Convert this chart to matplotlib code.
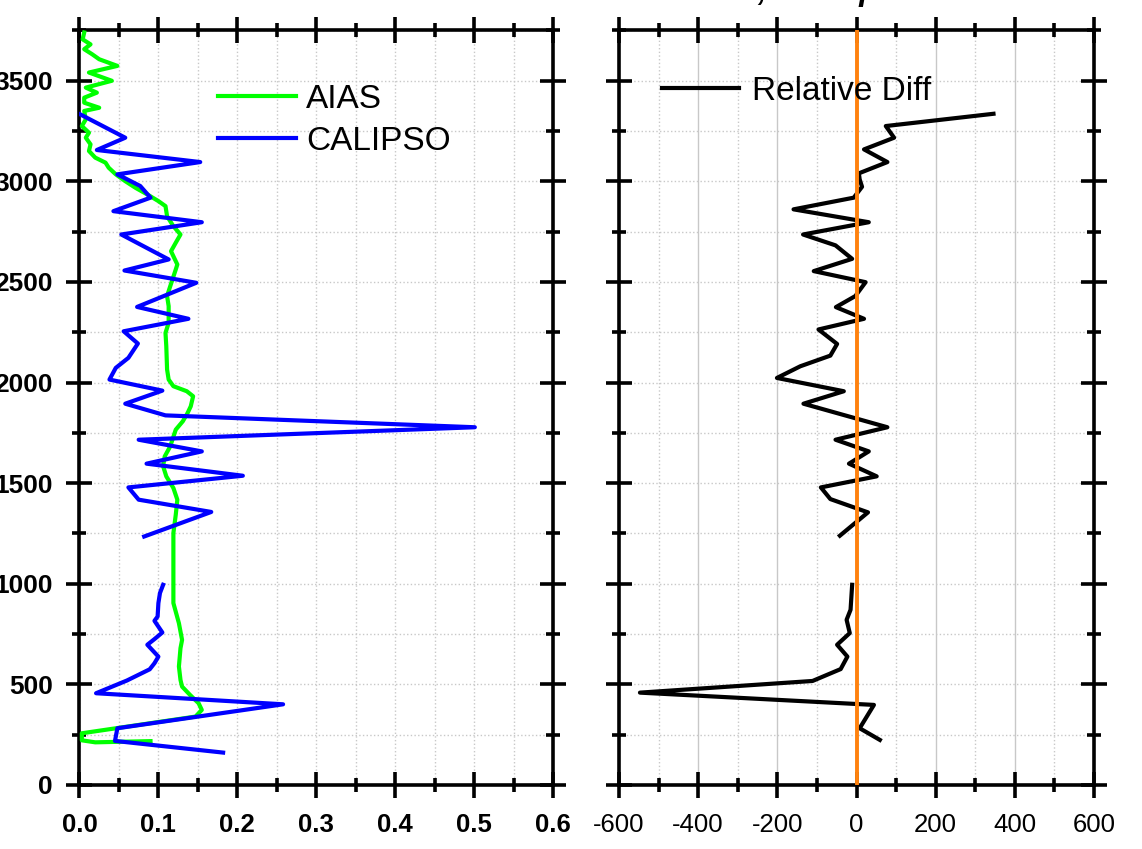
import numpy as np
import matplotlib
matplotlib.use('Agg')
import matplotlib.pyplot as plt
from matplotlib.ticker import MultipleLocator

plt.rcParams['font.family'] = ['Liberation Sans', 'DejaVu Sans']
plt.rcParams['axes.unicode_minus'] = False

# AIAS profile (altitude m, extinction)
aias_alt = [218, 212, 222, 257, 340, 373, 406, 448, 489, 522, 589, 680, 721, 804, 904,
            1020, 1119, 1252, 1343, 1418, 1476, 1534, 1584, 1633, 1683, 1766, 1808, 1849,
            1882, 1932, 1957, 1982, 2015, 2065, 2181, 2247, 2297, 2380, 2430, 2479, 2562,
            2587, 2628, 2653, 2695, 2736, 2777, 2827, 2877, 2902, 2935, 2968, 3001, 3035,
            3068, 3093, 3118, 3151, 3184, 3217, 3242, 3275, 3308, 3350, 3366, 3391, 3416,
            3441, 3466, 3500, 3541, 3574, 3607, 3632, 3657, 3681, 3706, 3740]
aias_ext = [0.090, 0.020, 0.003, 0.003, 0.147, 0.155, 0.151, 0.140, 0.130, 0.128, 0.126,
            0.128, 0.130, 0.126, 0.119, 0.119, 0.119, 0.119, 0.122, 0.124, 0.119, 0.110,
            0.106, 0.108, 0.115, 0.122, 0.131, 0.137, 0.141, 0.144, 0.136, 0.119, 0.113,
            0.111, 0.110, 0.109, 0.113, 0.113, 0.111, 0.115, 0.122, 0.124, 0.119, 0.116,
            0.122, 0.128, 0.119, 0.111, 0.109, 0.100, 0.086, 0.071, 0.058, 0.046, 0.037,
            0.033, 0.020, 0.012, 0.014, 0.008, 0.012, 0.003, 0.008, 0.006, 0.025, 0.006,
            0.006, 0.022, 0.008, 0.041, 0.012, 0.048, 0.025, 0.016, 0.006, 0.014, 0.004,
            0.006]

# CALIPSO profile, two pieces (gap between them)
cal_alt_low = [161, 219, 282, 401, 456, 519, 575, 605, 638, 697, 725, 758, 816, 837, 904,
               954, 995]
cal_ext_low = [0.182, 0.045, 0.048, 0.258, 0.021, 0.060, 0.089, 0.095, 0.100, 0.086,
               0.095, 0.105, 0.095, 0.099, 0.100, 0.102, 0.106]
cal_alt_up = [1235, 1357, 1418, 1479, 1537, 1597, 1658, 1716, 1778, 1837, 1895, 1960, 2015,
              2073, 2123, 2194, 2255, 2317, 2376, 2496, 2557, 2612, 2736, 2797, 2852, 2919,
              2977, 3035, 3096, 3156, 3217, 3333]
cal_ext_up = [0.082, 0.167, 0.075, 0.062, 0.207, 0.085, 0.155, 0.075, 0.501, 0.109, 0.058,
              0.105, 0.038, 0.046, 0.062, 0.074, 0.056, 0.138, 0.073, 0.148, 0.057, 0.113,
              0.053, 0.155, 0.043, 0.090, 0.077, 0.048, 0.153, 0.022, 0.058, 0.001]

# Relative difference (%), two pieces
rd_alt_low = [224, 282, 398, 459, 517, 576, 638, 697, 755, 821, 871, 995]
rd_val_low = [59, 8, 44, -547, -111, -40, -23, -49, -17, -25, -15, -11]
rd_alt_up = [1239, 1355, 1421, 1479, 1534, 1597, 1658, 1716, 1778, 1895, 1957, 2023, 2081,
             2134, 2192, 2264, 2317, 2375, 2430, 2499, 2554, 2615, 2682, 2736, 2797, 2861,
             2919, 2973, 3010, 3040, 3096, 3159, 3217, 3275, 3336]
rd_val_up = [-42, 29, -66, -90, 51, -19, 31, -53, 78, -134, -32, -201, -142, -66, -49, -96,
             19, -52, -3, 23, -108, -11, -53, -135, 31, -159, -7, 14, 8, 6, 78, 19, 95, 74,
             346]

cal_alt = cal_alt_low + [np.nan] + cal_alt_up
cal_ext = cal_ext_low + [np.nan] + cal_ext_up
rd_alt = rd_alt_low + [np.nan] + rd_alt_up
rd_val = rd_val_low + [np.nan] + rd_val_up

fig = plt.figure(figsize=(11.42, 8.49), dpi=100)
ax1 = fig.add_axes([0.0696, 0.0754, 0.4146, 0.8887])
ax2 = fig.add_axes([0.542, 0.0754, 0.416, 0.8887])

lw = 3.0
ax1.plot(aias_ext, aias_alt, color='#00ff00', lw=lw, label='AIAS', zorder=3)
ax1.plot(cal_ext, cal_alt, color='#0000ff', lw=lw, label='CALIPSO', zorder=4)
ax2.plot(rd_val, rd_alt, color='black', lw=lw, label='Relative Diff', zorder=3)
ax2.axvline(0, color='#ff820e', lw=2.8, zorder=4)

ax1.set_xlim(0, 0.6)
ax2.set_xlim(-600, 600)
for ax in (ax1, ax2):
    ax.set_ylim(0, 3750)
    ax.yaxis.set_major_locator(MultipleLocator(500))
    ax.yaxis.set_minor_locator(MultipleLocator(250))
    ax.tick_params(which='both', direction='inout', top=True, right=True, width=2.6,
                   labelsize=18.5)
    ax.tick_params(which='major', length=19)
    ax.tick_params(which='minor', length=9.5)
    ax.tick_params(axis='x', pad=11)
    ax.tick_params(axis='y', pad=9.5, labelsize=19)
    for s in ax.spines.values():
        s.set_linewidth(2.6)
    ax.grid(which='both', axis='y', color='#c8c8c8', ls=':', lw=1)

ax1.xaxis.set_major_locator(MultipleLocator(0.1))
ax1.xaxis.set_minor_locator(MultipleLocator(0.05))
ax1.grid(which='both', axis='x', color='#c8c8c8', ls=':', lw=1)
ax1.set_xticklabels([f'{v:.1f}' for v in ax1.get_xticks()])
for t in ax1.get_xticklabels() + ax1.get_yticklabels():
    t.set_fontweight('bold')

ax2.xaxis.set_major_locator(MultipleLocator(200))
ax2.xaxis.set_minor_locator(MultipleLocator(100))
ax2.grid(which='major', axis='x', color='#c8c8c8', ls='-', lw=1)
ax2.grid(which='minor', axis='x', color='#c8c8c8', ls=':', lw=1)
ax2.set_yticklabels([])

ax1.legend(loc='upper left', bbox_to_anchor=(0.2925, 0.929), frameon=False, fontsize=24,
           handlelength=2.35, handletextpad=0.3, labelspacing=0.33, borderpad=0,
           borderaxespad=0)
ax2.legend(loc='upper left', bbox_to_anchor=(0.0905, 0.940), frameon=False, fontsize=24,
           handlelength=2.3, handletextpad=0.4, borderpad=0, borderaxespad=0)

fig.text(487 / 1142, 1.0, 'AIAS vs CALIPSO, 12 Sep 2011', fontsize=23,
         fontweight='bold', fontstyle='italic', ha='left', va='baseline')

fig.savefig('out.png', dpi=100)
